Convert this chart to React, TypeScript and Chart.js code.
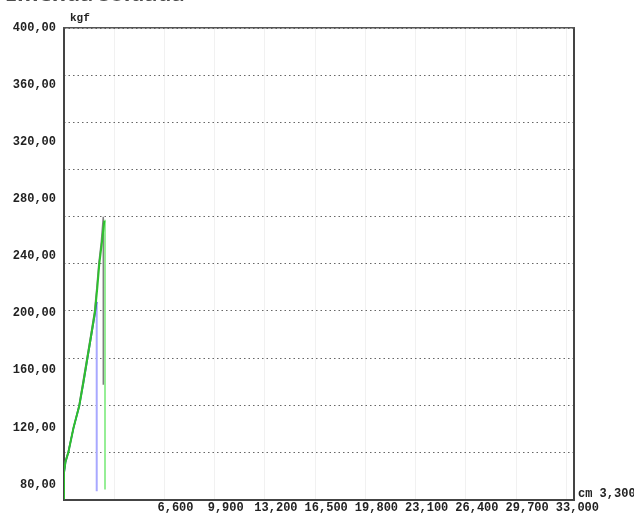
import React, { useEffect, useRef } from "react";
import { Chart, registerables } from "chart.js";

Chart.register(...registerables);

const chartTitle = "Emenda soldada";
const yUnit = "kgf";
const xUnit = "cm";

const yTicks = [80, 120, 160, 200, 240, 280, 320, 360, 400];
const xTicks = [3.3, 6.6, 9.9, 13.2, 16.5, 19.8, 23.1, 26.4, 29.7, 33.0];

// series (x in cm, y in kgf)
const greenX = [0, 0, 0.099, 0.282, 0.624, 1.005, 1.281, 1.53, 1.793, 2.036, 2.187, 2.319, 2.496, 2.647];
const greenY = [69.5, 88.4, 96.1, 102.4, 119.9, 135.3, 152.1, 168.2, 185.0, 201.1, 217.9, 234.7, 250.2, 264.9];

const blueX = [0, 0.099, 0.282, 0.624, 1.005, 1.281, 1.53, 1.793, 2.056, 2.148];
const blueY = [87.7, 95.4, 102.4, 119.6, 135.0, 151.4, 167.5, 184.3, 201.1, 208.1];

const grayX = [0, 0.099, 0.282, 0.624, 0.985, 1.248, 1.498, 1.76, 2.003, 2.154, 2.286, 2.45, 2.581, 2.581];
const grayY = [89.1, 96.8, 103.1, 119.9, 135.3, 152.1, 168.2, 185.0, 201.1, 217.9, 234.7, 250.2, 267.7, 150.0];

const lightBlueX = [2.148, 2.148];
const lightBlueY = [208.1, 75.3];

const lightGreenX = [2.693, 2.693];
const lightGreenY = [265.6, 76.5];

const pts = (xs: number[], ys: number[]) => xs.map((x, i) => ({ x, y: ys[i] }));
const fmtX = (v: number) => v.toFixed(3).replace(".", ",");
const fmtY = (v: number) => v.toFixed(2).replace(".", ",");

const MONO = "'Liberation Mono', 'Courier New', monospace";

const unitText = {
  id: "unitText",
  afterDraw(chart: any) {
    const { ctx, chartArea: a } = chart;
    ctx.save();
    ctx.fillStyle = "#222";
    ctx.textBaseline = "middle";
    ctx.textAlign = "left";
    ctx.font = `bold 11px ${MONO}`;
    ctx.fillText(yUnit, a.left + 6, a.top - 10);
    ctx.font = `bold 12px ${MONO}`;
    ctx.fillText(`${xUnit} ${fmtX(xTicks[0])}`, a.right + 4, a.bottom - 6);
    ctx.restore();
  },
};

export default function App() {
  const ref = useRef<HTMLCanvasElement>(null);
  useEffect(() => {
    if (!ref.current) return;
    const line = (data: any, color: string, width: number) => ({
      data,
      borderColor: color,
      backgroundColor: color,
      borderWidth: width,
      pointRadius: 0,
      tension: 0,
      fill: false,
    });
    const chart = new Chart(ref.current, {
      type: "line",
      data: {
        datasets: [
          line(pts(greenX, greenY), "#2ec02e", 2),
          line(pts(blueX, blueY), "#3a3ad8", 1.5),
          line(pts(grayX, grayY), "#808080", 1.5),
          line(pts(lightBlueX, lightBlueY), "#a8a8ff", 2),
          line(pts(lightGreenX, lightGreenY), "#96ee96", 2),
        ],
      },
      plugins: [unitText],
      options: {
        animation: false,
        responsive: false,
        devicePixelRatio: 1,
        layout: { padding: { left: 4.8, right: 60, top: 0, bottom: 0 } },
        plugins: {
          legend: { display: false },
          tooltip: { enabled: false },
          title: {
            display: true,
            text: chartTitle,
            align: "start",
            color: "#4d4d4d",
            font: { family: "'Open Sans', sans-serif", size: 22, weight: "bold", lineHeight: 1.1 },
            padding: { top: 0, bottom: 20.8 },
          },
        },
        scales: {
          x: {
            type: "linear",
            position: "bottom",
            min: 0,
            max: 33.5,
            afterBuildTicks: (s: any) => {
              s.ticks = xTicks.map((v) => ({ value: v }));
            },
            ticks: {
              callback: (v: any) => (v === xTicks[0] ? "" : fmtX(Number(v))),
              font: { family: MONO, size: 12, weight: "bold" },
              color: "#222",
              padding: 1,
              labelOffset: 11,
              maxRotation: 0,
              autoSkip: false,
            },
            grid: { color: "#f1f1f1", drawTicks: false, lineWidth: 1 },
            border: { display: true, color: "#444", width: 2 },
          },
          y: {
            type: "linear",
            position: "left",
            min: 69.5,
            max: 400,
            afterBuildTicks: (s: any) => {
              s.ticks = yTicks.map((v) => ({ value: v }));
            },
            ticks: {
              callback: (v: any) => fmtY(Number(v)),
              font: { family: MONO, size: 12, weight: "bold" },
              color: "#222",
              padding: 8,
              autoSkip: false,
            },
            grid: { display: false, drawTicks: false },
            border: { display: true, color: "#444", width: 2 },
          },
          yg: {
            type: "linear",
            position: "right",
            min: 0,
            max: 10,
            ticks: { display: false, stepSize: 1 },
            grid: { color: "#666", drawTicks: false, lineWidth: 1 },
            border: { display: false, dash: [1.5, 3] },
          },
          yr: {
            type: "linear",
            position: "right",
            min: 0,
            max: 1,
            ticks: { display: false },
            grid: { display: false, drawTicks: false },
            border: { display: true, color: "#444", width: 2 },
          },
          xt: {
            type: "linear",
            position: "top",
            min: 0,
            max: 1,
            ticks: { display: false },
            grid: { display: false, drawTicks: false },
            border: { display: true, color: "#555", width: 1.5 },
          },
        },
      } as any,
    });
    return () => chart.destroy();
  }, []);
  return (
    <div
      style={{
        position: "absolute",
        left: 0,
        top: -17,
        width: 634,
        height: 531,
        overflow: "hidden",
      }}
    >
      <canvas ref={ref} width={634} height={533} style={{ display: "block" }} />
    </div>
  );
}
